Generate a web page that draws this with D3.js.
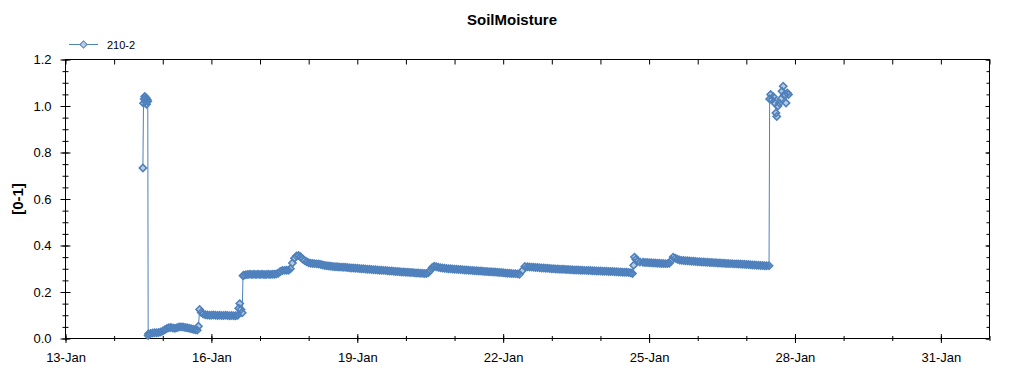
<!DOCTYPE html>
<html>
<head>
<meta charset="utf-8">
<script src="https://cdn.jsdelivr.net/npm/d3@7"></script>
<style>
  body { margin: 0; background: #fff; }
  svg { display: block; }
</style>
</head>
<body>
<div id="chart"></div>
<script>
const WIDTH = 1024, HEIGHT = 375;
const plot = { left: 65.5, right: 989.5, top: 59.5, bottom: 338.5 };

// chart texts
const chartTitle = "SoilMoisture";
const yTitle = "[0-1]";
const seriesName = "210-2";

// axes
const xStartDay = 13, xEndDay = 32;          // 13-Jan .. 1-Feb
const xTickDays = [13, 16, 19, 22, 25, 28, 31];
const yTicks = [0.0, 0.2, 0.4, 0.6, 0.8, 1.0, 1.2];

// hours since 13-Jan 00:00
const hours = [
  38.2, 38.5, 38.8, 39.1, 39.4, 39.7, 40.0, 40.3, 40.6, 40.8,
  41, 42, 43, 44, 45, 46, 47, 48, 49, 50, 51, 52,
  53, 54, 55, 56, 57, 58, 59, 60, 61, 62, 63, 64,
  65, 65.6, 66.2, 67, 68, 69, 70, 71, 72, 73,
  74, 75, 76, 77, 78, 79, 80, 81, 82, 83, 84, 85,
  85.5, 86, 86.6, 87.2, 87.6, 88, 89, 90, 91, 92, 93, 94,
  95, 96, 97, 98, 99, 100, 101, 102, 103, 104, 105, 106,
  107, 108, 109, 110, 111, 112, 113, 114, 115, 116, 117, 118,
  119, 120, 121, 122, 123, 124, 125, 126, 127, 128, 129, 130,
  131, 132, 133, 134, 135, 136, 137, 138, 139, 140, 141, 142,
  143, 144, 145, 146, 147, 148, 149, 150, 151, 152, 153, 154,
  155, 156, 157, 158, 159, 160, 161, 162, 163, 164, 165, 166,
  167, 168, 169, 170, 171, 172, 173, 174, 175, 176, 177, 178,
  179, 180, 181, 182, 183, 184, 185, 186, 187, 188, 189, 190,
  191, 192, 193, 194, 195, 196, 197, 198, 199, 200, 201, 202,
  203, 204, 205, 206, 207, 208, 209, 210, 211, 212, 213, 214,
  215, 216, 217, 218, 219, 220, 221, 222, 223, 224, 225.5, 226.7,
  228, 229, 230, 231, 232, 233, 234, 235, 236, 237, 238, 239,
  240, 241, 242, 243, 244, 245, 246, 247, 248, 249, 250, 251,
  252, 253, 254, 255, 256, 257, 258, 259, 260, 261, 262, 263,
  264, 265, 266, 267, 268, 269, 270, 271, 272, 273, 274, 275,
  276, 277, 278, 279, 279.8, 280.4, 280.8, 281.5, 282.5, 283.5, 285, 286,
  287, 288, 289, 290, 291, 292, 293, 294, 295, 296, 297, 298,
  299, 299.9, 301, 302, 303, 304, 305, 306, 307, 308, 309, 310,
  311, 312, 313, 314, 315, 316, 317, 318, 319, 320, 321, 322,
  323, 324, 325, 326, 327, 328, 329, 330, 331, 332, 333, 334,
  335, 336, 337, 338, 339, 340, 341, 342, 343, 344, 345, 346,
  347.2, 347.5, 348.0, 348.6, 349.3, 350.0, 350.6, 351.0, 351.6, 352.3, 353.0, 353.6,
  354.2, 354.9, 355.6, 356.2, 356.8
];

const moisture = [
  0.733, 1.012, 1.030, 1.041, 1.020, 1.035, 1.008, 1.028, 1.020, 0.013,
  0.020, 0.022, 0.024, 0.025, 0.025, 0.026, 0.028, 0.032, 0.038, 0.043, 0.046, 0.047,
  0.045, 0.044, 0.046, 0.049, 0.050, 0.049, 0.047, 0.046, 0.044, 0.042, 0.040, 0.038,
  0.036, 0.053, 0.125, 0.112, 0.105, 0.102, 0.101, 0.100, 0.100, 0.101,
  0.100, 0.099, 0.100, 0.099, 0.099, 0.100, 0.099, 0.098, 0.099, 0.098, 0.098, 0.100,
  0.130, 0.150, 0.125, 0.111, 0.270, 0.272, 0.274, 0.275, 0.276, 0.275, 0.276, 0.275,
  0.276, 0.275, 0.276, 0.275, 0.275, 0.276, 0.275, 0.276, 0.276, 0.277, 0.281, 0.288,
  0.292, 0.293, 0.294, 0.294, 0.300, 0.325, 0.345, 0.355, 0.357, 0.352, 0.342, 0.335,
  0.330, 0.326, 0.324, 0.323, 0.322, 0.321, 0.320, 0.318, 0.316, 0.314, 0.313, 0.312,
  0.311, 0.310, 0.309, 0.309, 0.308, 0.307, 0.306, 0.306, 0.305, 0.304, 0.303, 0.303,
  0.302, 0.302, 0.301, 0.300, 0.300, 0.299, 0.298, 0.298, 0.297, 0.296, 0.296, 0.295,
  0.294, 0.294, 0.293, 0.292, 0.291, 0.290, 0.290, 0.289, 0.288, 0.288, 0.287, 0.286,
  0.286, 0.285, 0.285, 0.284, 0.284, 0.283, 0.282, 0.282, 0.281, 0.281, 0.280, 0.280,
  0.283, 0.292, 0.305, 0.311, 0.309, 0.306, 0.304, 0.303, 0.302, 0.301, 0.300, 0.300,
  0.299, 0.298, 0.298, 0.297, 0.297, 0.296, 0.295, 0.295, 0.294, 0.293, 0.292, 0.291,
  0.291, 0.290, 0.290, 0.289, 0.288, 0.288, 0.287, 0.287, 0.286, 0.286, 0.285, 0.284,
  0.284, 0.283, 0.282, 0.281, 0.281, 0.280, 0.279, 0.279, 0.278, 0.276, 0.292, 0.310,
  0.309, 0.308, 0.307, 0.306, 0.305, 0.305, 0.304, 0.303, 0.303, 0.302, 0.302, 0.301,
  0.300, 0.300, 0.299, 0.299, 0.298, 0.298, 0.298, 0.297, 0.297, 0.296, 0.296, 0.295,
  0.295, 0.295, 0.294, 0.294, 0.293, 0.293, 0.292, 0.292, 0.291, 0.291, 0.290, 0.290,
  0.290, 0.289, 0.289, 0.289, 0.288, 0.288, 0.288, 0.287, 0.287, 0.286, 0.286, 0.285,
  0.285, 0.285, 0.284, 0.283, 0.280, 0.315, 0.350, 0.340, 0.333, 0.329, 0.328, 0.327,
  0.327, 0.326, 0.326, 0.325, 0.325, 0.324, 0.324, 0.323, 0.323, 0.322, 0.322, 0.324,
  0.335, 0.350, 0.345, 0.341, 0.338, 0.336, 0.335, 0.334, 0.334, 0.333, 0.332, 0.332,
  0.331, 0.330, 0.330, 0.329, 0.329, 0.328, 0.328, 0.327, 0.327, 0.326, 0.326, 0.325,
  0.325, 0.324, 0.324, 0.323, 0.323, 0.322, 0.322, 0.321, 0.321, 0.320, 0.320, 0.319,
  0.319, 0.318, 0.318, 0.317, 0.316, 0.316, 0.315, 0.315, 0.314, 0.314, 0.313, 0.313,
  0.313, 1.030, 1.049, 1.027, 1.040, 1.013, 0.970, 0.955, 1.000, 1.013, 1.030, 1.063,
  1.085, 1.050, 1.013, 1.056, 1.049
];

const lineColor = "#4f81bd";
const markerFill = "#b9cbdd";
const font = "'Liberation Sans', Arial, sans-serif";

const baseDate = new Date(2020, 0, xStartDay);
function hourToDate(h) { return new Date(baseDate.getTime() + h * 3600 * 1000); }

let data = hours.map(function (h, i) { return { date: hourToDate(h), value: moisture[i] }; });

let svg = d3.select("#chart")
    .append("svg")
    .attr("width", WIDTH)
    .attr("height", HEIGHT)
    .style("background", "#fff");

let x = d3.scaleTime()
    .domain([new Date(2020, 0, xStartDay), new Date(2020, 0, xEndDay)])
    .range([plot.left, plot.right]);

let y = d3.scaleLinear()
    .domain([0, 1.2])
    .range([plot.bottom, plot.top]);

let majorX = xTickDays.map(function (d) { return new Date(2020, 0, d); });
let minorX = d3.timeDay.range(x.domain()[0], d3.timeDay.offset(x.domain()[1], 1));
let minorY = d3.range(0, 1.2001, 0.05);

// ---- axes ----
// bottom minor ticks (cross the axis line)
svg.append("g")
    .attr("transform", `translate(0, ${plot.bottom})`)
    .call(d3.axisBottom(x).tickValues(minorX).tickSize(2.5).tickFormat(""))
    .call(function (g) { g.select(".domain").remove(); g.selectAll("line").attr("y1", -2.5); });

// bottom major ticks + labels
svg.append("g")
    .attr("transform", `translate(0, ${plot.bottom})`)
    .call(d3.axisBottom(x).tickValues(majorX).tickSize(4.5).tickPadding(10).tickFormat(d3.timeFormat("%-d-%b")))
    .call(function (g) {
        g.select(".domain").remove();
        g.selectAll("line").attr("y1", -4.5);
        g.selectAll("text").style("font", `13px ${font}`).attr("fill", "#000");
    });

// top ticks (inward)
svg.append("g")
    .attr("transform", `translate(0, ${plot.top})`)
    .call(d3.axisTop(x).tickValues(minorX).tickSize(-5).tickFormat(""))
    .call(function (g) { g.select(".domain").remove(); });

// left minor ticks
svg.append("g")
    .attr("transform", `translate(${plot.left}, 0)`)
    .call(d3.axisLeft(y).tickValues(minorY).tickSize(3).tickFormat(""))
    .call(function (g) { g.select(".domain").remove(); g.selectAll("line").attr("x1", 3); });

// left major ticks + labels
svg.append("g")
    .attr("transform", `translate(${plot.left}, 0)`)
    .call(d3.axisLeft(y).tickValues(yTicks).tickSize(5).tickPadding(9).tickFormat(d3.format(".1f")))
    .call(function (g) {
        g.select(".domain").remove();
        g.selectAll("line").attr("x1", 5);
        g.selectAll("text").style("font", `13px ${font}`).attr("fill", "#000");
    });

// right ticks (inward)
svg.append("g")
    .attr("transform", `translate(${plot.right}, 0)`)
    .call(d3.axisRight(y).tickValues(minorY).tickSize(-3).tickFormat(""))
    .call(function (g) { g.select(".domain").remove(); });
svg.append("g")
    .attr("transform", `translate(${plot.right}, 0)`)
    .call(d3.axisRight(y).tickValues(yTicks).tickSize(-4).tickFormat(""))
    .call(function (g) { g.select(".domain").remove(); });

// frame
svg.append("rect")
    .attr("x", plot.left)
    .attr("y", plot.top)
    .attr("width", plot.right - plot.left)
    .attr("height", plot.bottom - plot.top)
    .attr("fill", "none")
    .attr("stroke", "#000")
    .attr("stroke-width", 1);

// ---- series ----
svg.append("path")
    .datum(data)
    .attr("fill", "none")
    .attr("stroke", lineColor)
    .attr("stroke-width", 1)
    .attr("d", d3.line()
        .x(function (d) { return x(d.date); })
        .y(function (d) { return y(d.value); }));

let diamond = d3.symbol().type(d3.symbolSquare).size(26);
let markerPos = function (d) { return `translate(${x(d.date)}, ${y(d.value)}) rotate(45)`; };

// marker fills first, then all outlines on top (dense runs read as a solid band)
svg.append("g")
    .selectAll("path")
    .data(data)
    .enter()
    .append("path")
    .attr("d", diamond)
    .attr("transform", markerPos)
    .attr("fill", markerFill);

svg.append("g")
    .selectAll("path")
    .data(data)
    .enter()
    .append("path")
    .attr("d", diamond)
    .attr("transform", markerPos)
    .attr("fill", "none")
    .attr("stroke", lineColor)
    .attr("stroke-width", 1.6);

// ---- titles ----
svg.append("text")
    .attr("x", WIDTH / 2)
    .attr("y", 25)
    .attr("text-anchor", "middle")
    .style("font", `bold 15px ${font}`)
    .text(chartTitle);

svg.append("text")
    .attr("transform", `translate(23, ${(plot.top + plot.bottom) / 2}) rotate(-90)`)
    .attr("text-anchor", "middle")
    .style("font", `bold 15px ${font}`)
    .text(yTitle);

// ---- legend ----
let legend = svg.append("g").attr("transform", "translate(69, 44.5)");
legend.append("line")
    .attr("x1", 0).attr("x2", 29)
    .attr("stroke", lineColor)
    .attr("stroke-width", 1);
legend.append("path")
    .attr("d", diamond)
    .attr("transform", "translate(14.5, 0) rotate(45)")
    .attr("fill", markerFill)
    .attr("stroke", lineColor);
legend.append("text")
    .attr("x", 38)
    .attr("y", 4)
    .style("font", `11px ${font}`)
    .text(seriesName);
</script>
</body>
</html>
